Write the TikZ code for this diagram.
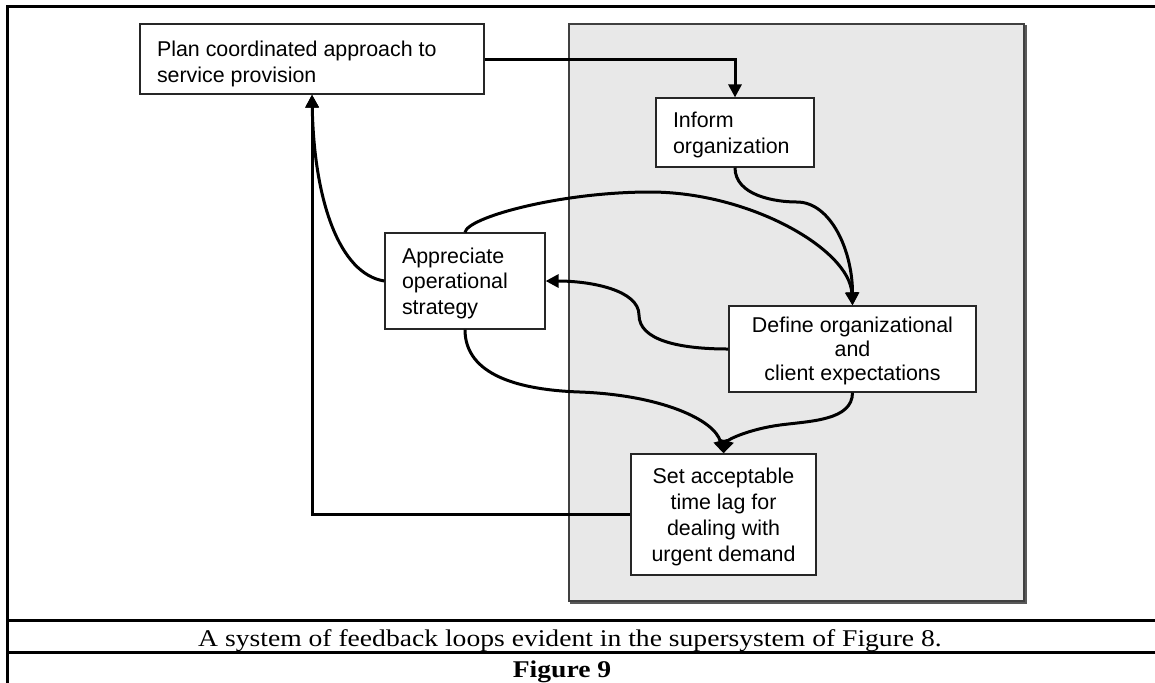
\documentclass[tikz,border=0pt]{standalone}
\usepackage{graphicx}
\usepackage{fontspec}
\setmainfont{Liberation Serif}
\newfontfamily\arialfont{Liberation Sans}
\usetikzlibrary{arrows.meta}
\definecolor{supergray}{RGB}{232,232,232}

% #1 width, #2 height, #3 first baseline from top, #4 baselineskip, #5 alignment, #6 text
\newcommand\boxtxt[6]{%
  \vbox to #2{\hsize=#1\relax\parindent=0pt\parskip=0pt
    \baselineskip=#4\relax\lineskiplimit=-50pt
    \vskip\dimexpr#3-12pt\relax
    #5\leavevmode\rule{0pt}{12pt}#6\par\vss}}

\tikzset{
  box/.style={draw=black!85, line width=0.6pt, fill=white, inner sep=0pt,
    font=\arialfont\fontsize{10.7pt}{13pt}\selectfont},
  superbox/.style={draw=black!75, line width=0.6pt, fill=supergray, inner sep=0pt},
  conn/.style={line width=1.5pt, -{Triangle[length=6.5pt,width=6.5pt]}},
  tbl/.style={line width=1.5pt, line cap=rect},
  captxt/.style={inner sep=0pt, anchor=base, font=\fontsize{12pt}{14pt}\selectfont},
}

\begin{document}
\begin{tikzpicture}[x=0.5pt, y=-0.5pt]
\useasboundingbox (0,0) rectangle (1155,682);

% table frame
\draw[tbl] (7,6) -- (1160,6);
\draw[tbl] (7,6) -- (7,690);
\draw[tbl] (7,620) -- (1160,620);
\draw[tbl] (7,652) -- (1160,652);

% supersystem region
\node[superbox, minimum width=227.5pt, minimum height=288.5pt] (super) at (796.5,312.5) {};
\draw[black!65, line width=0.7pt]
  ([xshift=0.65pt,yshift=-1pt]super.north east) -- ([xshift=0.65pt,yshift=-0.65pt]super.south east)
  -- ([xshift=1pt,yshift=-0.65pt]super.south west);

% boxes
\node[box] (plan) at (312,59)
  {\boxtxt{172pt}{35pt}{16pt}{13pt}{\raggedright\leftskip=8.5pt}{Plan coordinated approach to\\service provision}};
\node[box] (inform) at (735,132.5)
  {\boxtxt{79pt}{34.5pt}{14.5pt}{13pt}{\raggedright\leftskip=8.5pt}{Inform\\organization}};
\node[box] (appr) at (465,281)
  {\boxtxt{80pt}{48pt}{15pt}{12.75pt}{\raggedright\leftskip=8.5pt}{Appreciate\\operational\\strategy}};
\node[box] (define) at (852.5,349)
  {\boxtxt{123.5pt}{43pt}{13pt}{12pt}{\centering}{Define organizational\\and\\client expectations}};
\node[box] (set) at (723.5,514.5)
  {\boxtxt{92.5pt}{60.5pt}{14.5pt}{13pt}{\centering}{Set acceptable\\time lag for\\dealing with\\urgent demand}};

% via points
\coordinate (v2) at (797,202);
\coordinate (v3) at (650,192);
\coordinate (v4) at (639,315);
\coordinate (v7) at (580,392);
\coordinate (v8) at (780,425);

% connectors
\draw[conn] (plan.east) -| (inform.north);
\draw[conn] (inform.south) .. controls +(0,28) and +(-22,0) .. (v2)
  .. controls +(33,0) and +(0,-56) .. (define.north);
\draw[conn] (appr.north) .. controls +(2,-15) and +(-90,0) .. (v3)
  .. controls +(100,0) and +(-3,-56) .. (define.north);
\draw[conn] (define.west) .. controls +(-50,0) and +(0,25) .. (v4)
  .. controls +(0,-25) and +(45,0) .. (appr.east);
\draw[conn] (appr.west) .. controls +(-45,-7) and +(2,106) .. (plan.south);
\draw[conn] (set.west) -| (plan.south);
\draw[conn] (appr.south) .. controls +(0,46) and +(-60,-2) .. (v7)
  .. controls +(80,3) and +(-9,-34) .. (set.north);
\draw[conn] (define.south) .. controls +(0,28) and +(30,-4) .. (v8)
  .. controls +(-30,4) and +(4,-14) .. (set.north);

% caption
\node[captxt] (cap) at (570,646) {\scalebox{1.15}[1]{A system of feedback loops evident in the supersystem of Figure 8.}};
\node[captxt] (fig) at (562,677) {\scalebox{1.15}[1]{\bfseries Figure 9}};
\end{tikzpicture}
\end{document}
